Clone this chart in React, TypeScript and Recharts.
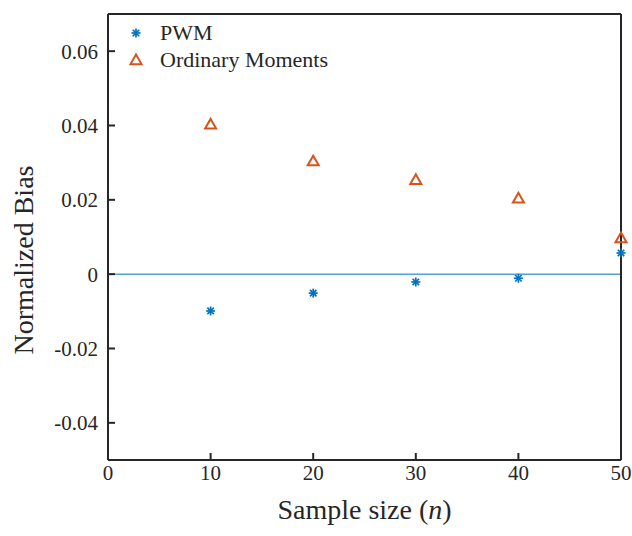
import React from "react";
import {
  ScatterChart,
  Scatter,
  XAxis,
  YAxis,
  ReferenceLine,
} from "recharts";

const sampleSizes = [10, 20, 30, 40, 50];
const pwmBias = [-0.0099, -0.0051, -0.0021, -0.0011, 0.0057];
const ordinaryBias = [0.0403, 0.0304, 0.0254, 0.0204, 0.0097];
const xTicks = [0, 10, 20, 30, 40, 50];
const yTicks = [-0.04, -0.02, 0, 0.02, 0.04, 0.06];
const xDomain = [0, 50];
const yDomain = [-0.05, 0.07];

const BLUE = "#0072BD";
const ORANGE = "#D95319";
const AXIS = "#262626";
const FONT = "Liberation Serif, DejaVu Serif, serif";

const TOP = 14;
const LEFT = 108;
const RIGHT = 632 - 11;
const TICK = 7;

const pwmData = sampleSizes.map((n, i) => ({ n, bias: pwmBias[i] }));
const ordData = sampleSizes.map((n, i) => ({ n, bias: ordinaryBias[i] }));

const Asterisk = (props: any) => {
  const { cx, cy } = props;
  const r = 4.5;
  const d = r * 0.72;
  return (
    <g stroke={BLUE} strokeWidth={1.7}>
      <line x1={cx - r} y1={cy} x2={cx + r} y2={cy} />
      <line x1={cx} y1={cy - r} x2={cx} y2={cy + r} />
      <line x1={cx - d} y1={cy - d} x2={cx + d} y2={cy + d} />
      <line x1={cx - d} y1={cy + d} x2={cx + d} y2={cy - d} />
    </g>
  );
};

const Triangle = (props: any) => {
  const { cx, cy } = props;
  const h = 5.5;
  return (
    <polygon
      points={`${cx},${cy - h} ${cx + h},${cy + h * 0.75} ${cx - h},${cy + h * 0.75}`}
      fill="none"
      stroke={ORANGE}
      strokeWidth={2}
    />
  );
};

const fmtY = (v: number) => (v === 0 ? "0" : v.toFixed(2));
const noLabel = () => "";

const XLabel = () => (
  <text x={(LEFT + RIGHT) / 2} y={519} textAnchor="middle" fill={AXIS} fontSize={28} fontFamily={FONT}>
    Sample size (<tspan fontStyle="italic">n</tspan>)
  </text>
);

const YLabel = () => {
  const cy = 260;
  return (
    <text x={33} y={cy} transform={`rotate(-90, 33, ${cy})`} textAnchor="middle" fill={AXIS} fontSize={28} fontFamily={FONT}>
      Normalized Bias
    </text>
  );
};

const App = () => {
  return (
    <div style={{ position: "absolute", left: 0, top: 0, width: 632, height: 536 }}>
      <ScatterChart width={632} height={536} margin={{ top: TOP - 1, right: 10, left: 0, bottom: 0 }}>
        <XAxis
          xAxisId="b"
          type="number"
          dataKey="n"
          domain={xDomain}
          ticks={xTicks}
          height={76}
          tickSize={-TICK}
          tickMargin={12}
          stroke={AXIS}
          strokeWidth={2}
          tick={{ fill: AXIS, fontSize: 21, fontFamily: FONT }}
          label={<XLabel />}
        />
        <XAxis
          xAxisId="t"
          orientation="top"
          type="number"
          dataKey="n"
          domain={xDomain}
          ticks={xTicks}
          height={1}
          tickSize={-TICK}
          tickFormatter={noLabel}
          stroke={AXIS}
          strokeWidth={2}
        />
        <YAxis
          yAxisId="l"
          type="number"
          dataKey="bias"
          domain={yDomain}
          ticks={yTicks}
          width={LEFT}
          tickSize={-TICK}
          tickMargin={17}
          tickFormatter={fmtY}
          stroke={AXIS}
          strokeWidth={2}
          tick={{ fill: AXIS, fontSize: 21, fontFamily: FONT }}
          label={<YLabel />}
        />
        <YAxis
          yAxisId="r"
          orientation="right"
          type="number"
          dataKey="bias"
          domain={yDomain}
          ticks={yTicks}
          width={1}
          tickSize={-TICK}
          tickFormatter={noLabel}
          stroke={AXIS}
          strokeWidth={2}
        />
        <ReferenceLine xAxisId="b" yAxisId="l" y={yDomain[1]} stroke={AXIS} strokeWidth={2} />
        <ReferenceLine xAxisId="b" yAxisId="l" x={xDomain[1]} stroke={AXIS} strokeWidth={2} />
        <ReferenceLine xAxisId="b" yAxisId="l" y={0} stroke={BLUE} strokeWidth={1} />
        <Scatter
          name="PWM"
          xAxisId="b"
          yAxisId="l"
          data={pwmData}
          shape={Asterisk}
          isAnimationActive={false}
        />
        <Scatter
          name="Ordinary Moments"
          xAxisId="b"
          yAxisId="l"
          data={ordData}
          shape={Triangle}
          isAnimationActive={false}
        />
      </ScatterChart>
      <div
        style={{
          position: "absolute",
          left: 126,
          top: 19,
          fontFamily: FONT,
          fontSize: 22,
          color: AXIS,
          lineHeight: "27px",
        }}
      >
        <div style={{ display: "flex", alignItems: "center" }}>
          <svg width={20} height={14} style={{ marginRight: 14 }}>
            <Asterisk cx={10} cy={7} />
          </svg>
          PWM
        </div>
        <div style={{ display: "flex", alignItems: "center" }}>
          <svg width={20} height={14} style={{ marginRight: 14 }}>
            <Triangle cx={10} cy={7} />
          </svg>
          Ordinary Moments
        </div>
      </div>
    </div>
  );
};

export default App;
